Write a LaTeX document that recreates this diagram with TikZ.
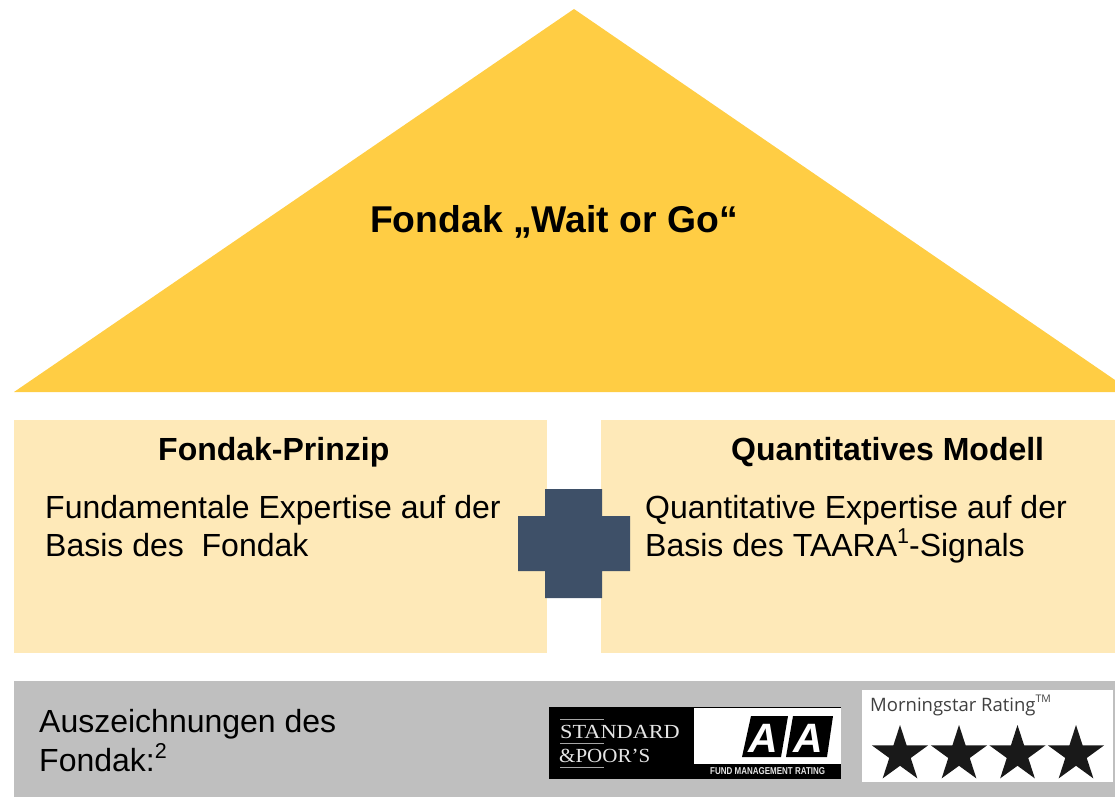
\documentclass[tikz,border=0pt]{standalone}
\usepackage{fontspec}
\setmainfont{Liberation Sans}
\newfontfamily\logoserif{Liberation Serif}
\newfontfamily\logosans{Open Sans}
\usetikzlibrary{shapes.geometric}
\definecolor{roof}{HTML}{FFCD44}
\definecolor{pillar}{HTML}{FEE9B8}
\definecolor{band}{HTML}{BFBFBF}
\definecolor{crossc}{HTML}{3E5068}
\newcommand{\smallsup}[1]{\raisebox{0.38em}{\fontsize{21.5}{21.5}\selectfont #1}}
\tikzset{
  txt/.style={inner sep=0pt,anchor=base west,align=left,text=black},
  head/.style={txt,font=\fontsize{32}{32}\selectfont\bfseries},
  body/.style={txt,font=\fontsize{32}{32}\selectfont},
  mstar/.style={star,star points=5,star point ratio=2.618,fill=black!90,inner sep=0pt,minimum size=59pt},
  logorule/.style={fill=gray!70},
  logotxt/.style={txt,text=white!90!black},
  aatxt/.style={txt,text=white,font=\fontsize{41}{41}\selectfont\bfseries\itshape},
}
\begin{document}
\begin{tikzpicture}[x=1pt,y=-1pt]
\useasboundingbox (0,0) rectangle (1115,797);
\fill[roof] (14,392) -- (574,9) -- (1115,380) -- (1115,392) -- cycle;
\node[txt,font=\fontsize{37.3}{38}\selectfont\bfseries] (title) at (370,232) {Fondak „Wait or Go“};
\fill[pillar] (14,420) rectangle (547,653);
\fill[pillar] (601,420) rectangle (1115,653);
\node[head] (h1) at (158,460) {Fondak-Prinzip};
\node[head] (h2) at (731,460) {Quantitatives Modell};
\node[body] (b1a) at (45,518) {Fundamentale Expertise auf der};
\node[body] (b1b) at (45,556) {Basis des\ \ Fondak};
\node[body] (b2a) at (645,518) {Quantitative Expertise auf der};
\node[body] (b2b) at (645,556) {Basis des TAARA\smallsup{1}-Signals};
\fill[crossc] (545,489) -- (602,489) -- (602,516) -- (630,516) -- (630,571) -- (602,571) -- (602,598) -- (545,598) -- (545,571) -- (518,571) -- (518,516) -- (545,516) -- cycle;
\fill[band] (14,681) rectangle (1115,797);
\node[body] (aw1) at (39,732) {Auszeichnungen des};
\node[body] (aw2) at (39,771) {Fondak:\smallsup{2}};
% S&P logo
\fill[black] (549,707) rectangle (841,779);
\fill[white] (694,708) rectangle (840.5,764);
\fill[logorule] (560,718.5) rectangle (604,719.5);
\fill[logorule] (560,743) rectangle (604,744);
\fill[logorule] (560,767) rectangle (604,768);
\node[logotxt,font=\logoserif\fontsize{20}{20}\selectfont,xscale=1.115] (sp1) at (560,738) {STANDARD};
\node[logotxt,font=\logoserif\fontsize{20}{20}\selectfont,xscale=1.05] (sp2) at (559,762) {\&POOR’S};
\fill[black] (751,716) -- (788,716) -- (781,757) -- (742,757) -- cycle;
\fill[black] (793,716) -- (833,716) -- (827,757) -- (786,757) -- cycle;
\node[aatxt] (a1) at (748,752) {A};
\node[aatxt] (a2) at (793,752) {A};
\node[logotxt,font=\fontsize{10}{10}\selectfont\bfseries,xscale=0.8] (fm) at (710,774) {FUND MANAGEMENT RATING};
% Morningstar
\fill[white] (862,690) rectangle (1113,782);
\node[txt,text=black!75,font=\logosans\fontsize{18.5}{20}\selectfont] (ms) at (870,711) {Morningstar Rating\raisebox{0.45em}{\fontsize{10.5}{11}\selectfont TM}};
\node[mstar] (s1) at (900,754.5) {};
\node[mstar] (s2) at (959,754.5) {};
\node[mstar] (s3) at (1017.5,754.5) {};
\node[mstar] (s4) at (1076,754.5) {};
\end{tikzpicture}
\end{document}
